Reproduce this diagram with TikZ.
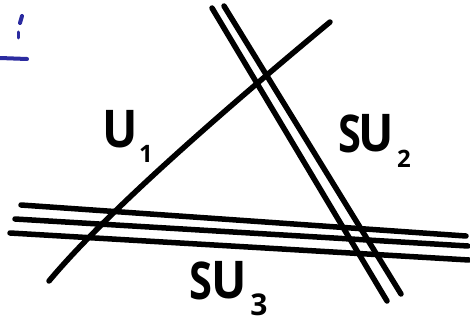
\documentclass[tikz,border=0pt]{standalone}
\usepackage{fontspec}
\setmainfont{Open Sans}
\definecolor{inkblue}{HTML}{2B2BA0}
\begin{document}
\begin{tikzpicture}[x=1pt,y=-1pt,
  stroke/.style={line width=5.5pt,line cap=round,black},
  bluestroke/.style={line width=4pt,line cap=round,inkblue},
  lbl/.style={inner sep=0pt,anchor=center,font=\bfseries\fontsize{52}{52}\selectfont},
  sub/.style={inner sep=0pt,anchor=center,font=\bfseries\fontsize{24}{24}\selectfont}]
\useasboundingbox (0,0) rectangle (470,326);
% blue marks
\coordinate (b1a) at (22,16); \coordinate (b1b) at (20,23);
\coordinate (b2a) at (18,32); \coordinate (b2b) at (18,38);
\coordinate (b3a) at (0,58); \coordinate (b3b) at (27,59);
\draw[bluestroke] (b1a) -- (b1b);
\draw[bluestroke,line width=3pt] (b2a) -- (b2b);
\draw[bluestroke] (b3a) -- (b3b);
% U1 single line
\coordinate (u1a) at (330,22); \coordinate (u1b) at (49,281);
\draw[stroke] (u1a) .. controls (200,130) and (100,220) .. (u1b);
% SU2 double line
\coordinate (s2a1) at (212,8); \coordinate (s2b1) at (387,301);
\coordinate (s2a2) at (224,6); \coordinate (s2b2) at (401,294);
\draw[stroke] (s2a1) -- (s2b1);
\draw[stroke] (s2a2) -- (s2b2);
% SU3 triple line
\coordinate (s3a1) at (21,205); \coordinate (s3b1) at (466,236);
\coordinate (s3a2) at (15,219); \coordinate (s3b2) at (468,246);
\coordinate (s3a3) at (10,233); \coordinate (s3b3) at (469,260);
\draw[stroke] (s3a1) -- (s3b1);
\draw[stroke] (s3a2) -- (s3b2);
\draw[stroke] (s3a3) -- (s3b3);
% labels
\node[lbl,xscale=0.9] (U1) at (120,129) {U};
\node[sub] (U1s) at (146,154) {1};
\node[lbl,xscale=0.8] (S2) at (350,134) {S};
\node[lbl,xscale=0.9] (U2) at (376,133) {U};
\node[sub] (U2s) at (404,159) {2};
\node[lbl,xscale=0.8] (S3) at (201,281) {S};
\node[lbl,xscale=0.9] (U3) at (229,280) {U};
\node[sub,font=\bfseries\fontsize{30}{30}\selectfont] (U3s) at (259,305) {3};
\end{tikzpicture}
\end{document}
